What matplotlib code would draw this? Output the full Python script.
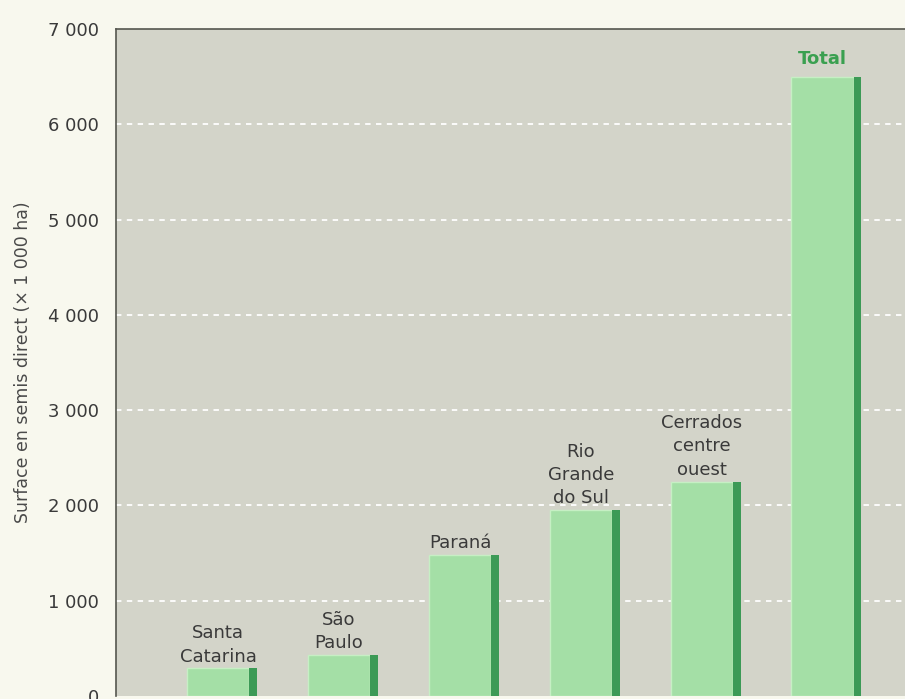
# Bar chart: no-till (semis direct) area by Brazilian region, with total.

import matplotlib.pyplot as plt

regions = ['Santa\nCatarina', 'São\nPaulo', 'Paraná', 'Rio\nGrande\ndo Sul',
           'Cerrados\ncentre\nouest', 'Total']
surface = [290, 430, 1480, 1950, 2250, 6500]
y_ticks = [0, 1000, 2000, 3000, 4000, 5000, 6000, 7000]
y_labels = ['0', '1 000', '2 000', '3 000', '4 000', '5 000', '6 000', '7 000']

plt.rcParams['font.family'] = ['DejaVu Sans']

fig = plt.figure(figsize=(9.05, 6.99), dpi=100, facecolor='#f8f8ee')
ax = fig.add_axes([0.128, 0.0043, 0.872, 0.9542])
ax.set_facecolor('#d3d4c9')

# light face of each bar plus a dark strip on its right side
full_w = 0.58
dark_w = 0.065
x = list(range(len(regions)))
left = [i - full_w / 2 for i in x]
ax.bar(left, surface, width=full_w - dark_w, align='edge',
       color='#a4dfa6', edgecolor='#c6efc4', linewidth=1, zorder=3)
ax.bar([l + full_w - dark_w for l in left], surface, width=dark_w, align='edge',
       color='#3c9a56', linewidth=0, zorder=3)

# category labels above the bars
for i, (name, val) in enumerate(zip(regions, surface)):
    cx = left[i] + (full_w - dark_w) / 2
    if name == 'Total':
        ax.text(cx, val + 90, name, ha='center', va='bottom', fontsize=13,
                fontweight='bold', color='#3aa050', zorder=4)
    else:
        ax.text(cx, val + 30, name, ha='center', va='bottom', fontsize=13,
                color='#3a3a3a', linespacing=1.38, zorder=4)

ax.set_xlim(-0.88, 5.65)
ax.set_ylim(0, 7000)
ax.set_xticks([])
ax.set_yticks(y_ticks)
ax.set_yticklabels(y_labels)
ax.tick_params(axis='y', length=0, pad=12, labelsize=13, labelcolor='#3a3a3a')

ax.set_ylabel('Surface en semis direct (× 1 000 ha)', fontsize=12.5,
              color='#4a4a4a', labelpad=12)

# white dashed gridlines
for t in y_ticks[1:-1]:
    ax.axhline(t, color='white', linestyle=(0, (3, 3)), linewidth=1.3, zorder=1)

for side in ['right', 'bottom']:
    ax.spines[side].set_visible(False)
for side in ['left', 'top']:
    ax.spines[side].set_color('#55574f')
    ax.spines[side].set_linewidth(1.2)

plt.savefig('out.png', dpi=100, facecolor=fig.get_facecolor())
